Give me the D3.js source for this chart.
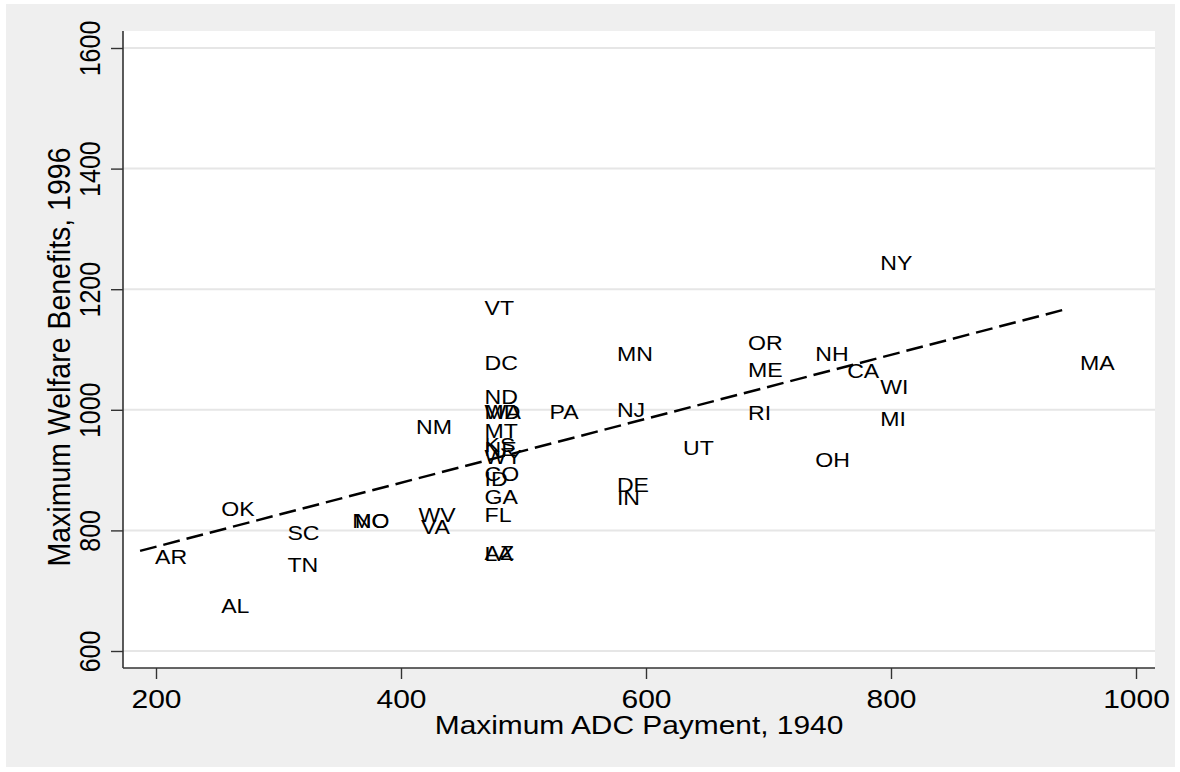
<!DOCTYPE html>
<html>
<head>
<meta charset="utf-8">
<style>
  body { margin: 0; background: #fff; }
  text { font-family: "Liberation Sans", Arial, sans-serif; fill: #000; }
</style>
</head>
<body>
<div class="container"></div>
<script src="https://d3js.org/d3.v7.min.js"></script>
<script>
  // state labels and their values
  var states = ['AR','OK','SC','TN','AL','MO','NC','WV','VA','NM',
                'VT','DC','ND','MD','WA','MT','KS','NE','WY','CO','ID','GA','FL','AZ','LA',
                'PA','MN','NJ','DE','IN','UT',
                'OR','ME','RI','NH','OH','CA','NY','WI','MI','MA'];
  var adc1940 = [187, 241, 295, 295, 241, 348, 350, 402, 404, 400,
                 456, 456, 456, 456, 456, 456, 456, 456, 456, 456, 456, 456, 456, 456, 456,
                 509, 564, 564, 564, 564, 618,
                 671, 671, 671, 726, 726, 752, 779, 779, 779, 942];
  var welfare1996 = [757, 837, 797, 744, 675, 816, 816, 826, 806, 972,
                     1170, 1078, 1022, 997, 997, 966, 942, 936, 922, 895, 887, 857, 827, 763, 762,
                     998, 1093, 1000, 876, 854, 937,
                     1112, 1067, 996, 1093, 918, 1065, 1244, 1038, 985, 1078];

  // fitted line (end points)
  var fitX = [187, 943];
  var fitY = [766, 1167];

  var xTicks = [200, 400, 600, 800, 1000];
  var yTicks = [600, 800, 1000, 1200, 1400, 1600];

  var W = 1180, H = 772;
  var plot = { left: 123, right: 1155, top: 31, bottom: 668 };
  var SX = 1.2;   // the glyphs in the picture are a little wide

  var svg = d3.select('.container').append('svg')
      .attr('width', W).attr('height', H);

  svg.append('rect')
      .attr('x', 6).attr('y', 4)
      .attr('width', 1169).attr('height', 763)
      .attr('fill', '#efefef');

  svg.append('rect')
      .attr('x', plot.left).attr('y', plot.top)
      .attr('width', plot.right - plot.left).attr('height', plot.bottom - plot.top)
      .attr('fill', '#fff');

  var x = d3.scaleLinear().domain([200, 1000]).range([156, 1136]);
  var y = d3.scaleLinear().domain([600, 1600]).range([651, 48]);

  // grid
  svg.append('g').selectAll('line')
      .data(yTicks)
    .enter().append('line')
      .attr('x1', plot.left).attr('x2', plot.right)
      .attr('y1', function(d) { return y(d); })
      .attr('y2', function(d) { return y(d); })
      .attr('stroke', '#e6e6e6')
      .attr('stroke-width', 2);

  // axes
  var xAxis = svg.append('g')
      .attr('transform', 'translate(0,' + plot.bottom + ')')
      .call(d3.axisBottom(x).tickValues(xTicks).tickFormat(d3.format('d'))
              .tickSize(11).tickSizeOuter(0));
  var yAxis = svg.append('g')
      .attr('transform', 'translate(' + plot.left + ',0)')
      .call(d3.axisLeft(y).tickValues(yTicks).tickFormat(d3.format('d'))
              .tickSize(12).tickSizeOuter(0));

  [xAxis, yAxis].forEach(function(a) {
    a.select('.domain').remove();
    a.selectAll('.tick line').attr('stroke', '#333').attr('stroke-width', 1.4);
    a.attr('font-family', null).attr('font-size', null);
  });

  xAxis.selectAll('.tick text')
      .attr('font-size', 25)
      .attr('y', 0).attr('dy', 0)
      .attr('transform', 'translate(0,40) scale(' + SX + ',1)');

  yAxis.selectAll('.tick text')
      .attr('font-size', 25)
      .attr('x', 0).attr('dy', 0)
      .attr('text-anchor', 'middle')
      .attr('transform', 'translate(-23,0) scale(' + SX + ',1) rotate(-90)');

  svg.append('line')
      .attr('x1', plot.left).attr('x2', plot.left)
      .attr('y1', plot.top).attr('y2', plot.bottom)
      .attr('stroke', '#333').attr('stroke-width', 1.6);
  svg.append('line')
      .attr('x1', plot.left).attr('x2', plot.right)
      .attr('y1', plot.bottom).attr('y2', plot.bottom)
      .attr('stroke', '#333').attr('stroke-width', 1.6);

  // titles
  svg.append('text')
      .text('Maximum ADC Payment, 1940')
      .attr('font-size', 26)
      .attr('text-anchor', 'middle')
      .attr('transform', 'translate(' + (plot.left + plot.right) / 2 + ',734) scale(1.15,1)');

  svg.append('text')
      .text('Maximum Welfare Benefits, 1996')
      .attr('font-size', 28.5)
      .attr('text-anchor', 'middle')
      .attr('transform', 'translate(70,357) scale(1.1,1) rotate(-90)');

  // fit line
  var line = d3.line()
      .x(function(d) { return x(d[0]); })
      .y(function(d) { return y(d[1]); });
  svg.append('path')
      .datum(d3.zip(fitX, fitY))
      .attr('d', line)
      .attr('fill', 'none')
      .attr('stroke', '#000')
      .attr('stroke-width', 2.5)
      .attr('stroke-dasharray', '17,7');

  // state labels (no marker, label sits to the right of the point)
  svg.append('g').selectAll('text')
      .data(d3.range(states.length))
    .enter().append('text')
      .text(function(i) { return states[i]; })
      .attr('font-size', 21)
      .attr('dy', '0.36em')
      .attr('transform', function(i) {
        return 'translate(' + (x(adc1940[i]) + 15) + ',' + y(welfare1996[i]) + ') scale(1.1,1)';
      });
</script>
</body>
</html>
